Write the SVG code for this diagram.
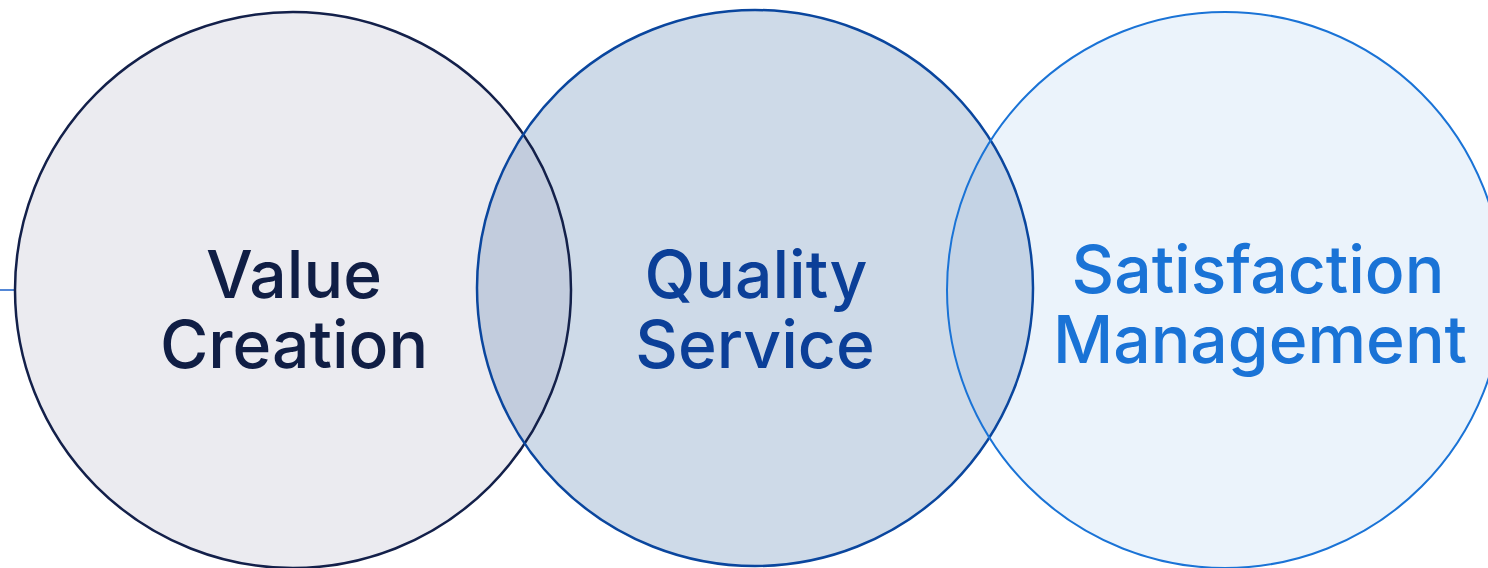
<svg xmlns="http://www.w3.org/2000/svg" width="1488" height="568" viewBox="0 0 1488 568">
  <style>
    .lbl { font-family: Inter, "Noto Sans", "Liberation Sans", sans-serif; font-weight: 500; font-size: 66px; text-anchor: middle; }
  </style>
  <defs>
    <clipPath id="clipLeft"><circle cx="293" cy="290" r="278"/></clipPath>
    <clipPath id="clipRight"><circle cx="1225" cy="290" r="278"/></clipPath>
  </defs>
  <rect width="1488" height="568" fill="#ffffff"/>
  <g id="connectors">
    <line x1="0" y1="290" x2="15" y2="290" stroke="#1A5FC8" stroke-width="1.5"/>
  </g>
  <g id="fills">
    <circle cx="293" cy="290" r="278" fill="#EBEBF0"/>
    <circle cx="755" cy="288" r="278" fill="#CEDAE8"/>
    <circle cx="1225" cy="290" r="278" fill="#EBF3FB"/>
    <circle cx="755" cy="288" r="278" fill="#C2CCDD" clip-path="url(#clipLeft)"/>
    <circle cx="755" cy="288" r="278" fill="#C4D3E5" clip-path="url(#clipRight)"/>
  </g>
  <g id="node-value-creation">
    <circle cx="293" cy="290" r="278" fill="none" stroke="#13204A" stroke-width="2.5"/>
    <text class="lbl" fill="#101E45"><tspan x="294" y="298">Value</tspan><tspan x="294" y="368">Creation</tspan></text>
  </g>
  <g id="node-quality-service">
    <circle cx="755" cy="288" r="278" fill="none" stroke="#0A469E" stroke-width="2.5"/>
    <text class="lbl" fill="#0B3F98"><tspan x="756" y="298">Quality</tspan><tspan x="755" y="368">Service</tspan></text>
  </g>
  <g id="node-satisfaction-management">
    <circle cx="1225" cy="290" r="278" fill="none" stroke="#1A73D6" stroke-width="2"/>
    <text class="lbl" fill="#1A73D6"><tspan x="1258" y="293">Satisfaction</tspan><tspan x="1260" y="363">Management</tspan></text>
  </g>
</svg>
